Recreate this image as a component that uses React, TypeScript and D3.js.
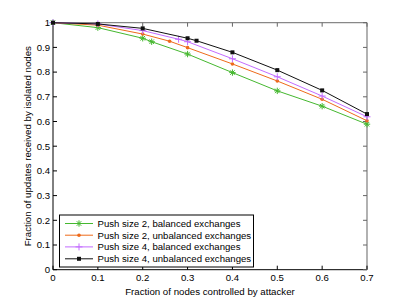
import React from "react";
import * as d3 from "d3";

const seriesNames = [
  "Push size 2, balanced exchanges",
  "Push size 2, unbalanced exchanges",
  "Push size 4, balanced exchanges",
  "Push size 4, unbalanced exchanges",
];
const greenX = [0, 0.1, 0.2, 0.22, 0.3, 0.4, 0.5, 0.6, 0.7];
const greenY = [1, 0.98, 0.937, 0.923, 0.873, 0.798, 0.724, 0.662, 0.589];
const orangeX = [0, 0.1, 0.2, 0.26, 0.3, 0.4, 0.5, 0.6, 0.7];
const orangeY = [1, 0.99, 0.954, 0.925, 0.899, 0.833, 0.764, 0.69, 0.603];
const purpleX = [0, 0.1, 0.2, 0.28, 0.3, 0.4, 0.5, 0.6, 0.7];
const purpleY = [1, 0.995, 0.968, 0.933, 0.923, 0.854, 0.781, 0.703, 0.619];
const blackX = [0, 0.1, 0.2, 0.3, 0.32, 0.4, 0.5, 0.6, 0.7];
const blackY = [1, 0.995, 0.977, 0.937, 0.927, 0.88, 0.808, 0.726, 0.63];
const xTicks = [0, 0.1, 0.2, 0.3, 0.4, 0.5, 0.6, 0.7];
const yTicks = [0, 0.1, 0.2, 0.3, 0.4, 0.5, 0.6, 0.7, 0.8, 0.9, 1];
const xLabel = "Fraction of nodes controlled by attacker";
const yLabel = "Fraction of updates received by isolated nodes";

const colors = ["#45b82f", "#ee6a1a", "#c36cff", "#111111"];
const markers = ["star", "dot", "plus", "square"];

const font = "'Liberation Sans', Arial, sans-serif";

function Marker({ type, x, y, color }: { type: string; x: number; y: number; color: string }) {
  if (type === "star") {
    const r = 3.2;
    return (
      <g stroke={color} strokeWidth={1}>
        <line x1={x - r} y1={y} x2={x + r} y2={y} />
        <line x1={x} y1={y - r} x2={x} y2={y + r} />
        <line x1={x - r * 0.7} y1={y - r * 0.7} x2={x + r * 0.7} y2={y + r * 0.7} />
        <line x1={x - r * 0.7} y1={y + r * 0.7} x2={x + r * 0.7} y2={y - r * 0.7} />
      </g>
    );
  }
  if (type === "dot") return <circle cx={x} cy={y} r={1.8} fill={color} />;
  if (type === "plus") {
    const r = 3.5;
    return (
      <g stroke={color} strokeWidth={1}>
        <line x1={x - r} y1={y} x2={x + r} y2={y} />
        <line x1={x} y1={y - r} x2={x} y2={y + r} />
      </g>
    );
  }
  return <rect x={x - 2} y={y - 2} width={4} height={4} fill={color} />;
}

export default function App() {
  const W = 405, H = 305;
  const left = 53, right = 367, top = 22.7, bottom = 269.7;
  const x = d3.scaleLinear().domain([0, 0.7]).range([left, right]);
  const y = d3.scaleLinear().domain([0, 1]).range([bottom, top]);
  const allX = [greenX, orangeX, purpleX, blackX];
  const allY = [greenY, orangeY, purpleY, blackY];
  const line = d3.line<[number, number]>().x((d) => x(d[0])).y((d) => y(d[1]));
  const tl = 4;

  const legX = 59.5, legY = 215, legW = 194, legH = 52;
  const rowYs = [223.5, 235.2, 246.9, 258.8];

  return (
    <svg width={W} height={H} style={{ position: "absolute", left: 0, top: 0 }} fontFamily={font}>
      <rect x={0} y={0} width={W} height={H} fill="white" />
      <line x1={left} y1={top} x2={right} y2={top} stroke="#888" strokeWidth={1.3} />
      <line x1={right} y1={top} x2={right} y2={bottom} stroke="#888" strokeWidth={1.3} />
      <line x1={left} y1={bottom} x2={right} y2={bottom} stroke="#000" strokeWidth={1} />
      <line x1={left} y1={top} x2={left} y2={bottom} stroke="#000" strokeWidth={1} />
      {xTicks.map((t) => (
        <g key={"x" + t}>
          <line x1={x(t)} x2={x(t)} y1={bottom} y2={bottom - tl} stroke="#000" />
          <line x1={x(t)} x2={x(t)} y1={top} y2={top + tl} stroke="#666" />
          <text x={x(t)} y={bottom + 11.5} fontSize={9.6} textAnchor="middle" fill="#000">
            {String(t)}
          </text>
        </g>
      ))}
      {yTicks.map((t) => (
        <g key={"y" + t}>
          <line x1={left} x2={left + tl} y1={y(t)} y2={y(t)} stroke="#000" />
          <line x1={right} x2={right - tl} y1={y(t)} y2={y(t)} stroke="#666" />
          <text x={left - 3} y={y(t) + 3.3} fontSize={9.6} textAnchor="end" fill="#000">
            {String(t)}
          </text>
        </g>
      ))}
      <text x={(left + right) / 2} y={295} fontSize={9.7} textAnchor="middle" fill="#000">
        {xLabel}
      </text>
      <text
        transform={`translate(31,${(top + bottom) / 2}) rotate(-90)`}
        fontSize={9.7}
        textAnchor="middle"
        fill="#000"
      >
        {yLabel}
      </text>
      {allX.map((xs, i) => {
        const pts: [number, number][] = xs.map((v, j) => [v, allY[i][j]]);
        return (
          <g key={"s" + i}>
            <path d={line(pts) || ""} fill="none" stroke={colors[i]} strokeWidth={1} />
            {pts.map((p, j) => (
              <Marker key={j} type={markers[i]} x={x(p[0])} y={y(p[1])} color={colors[i]} />
            ))}
          </g>
        );
      })}
      <rect x={legX} y={legY} width={legW} height={legH} fill="white" stroke="#000" strokeWidth={1} />
      {seriesNames.map((n, i) => (
        <g key={"l" + i}>
          <line x1={65} x2={93} y1={rowYs[i]} y2={rowYs[i]} stroke={colors[i]} strokeWidth={1} />
          <Marker type={markers[i]} x={79} y={rowYs[i]} color={colors[i]} />
          <text x={97.5} y={rowYs[i] + 3.4} fontSize={9.6} fill="#000">
            {n}
          </text>
        </g>
      ))}
    </svg>
  );
}
